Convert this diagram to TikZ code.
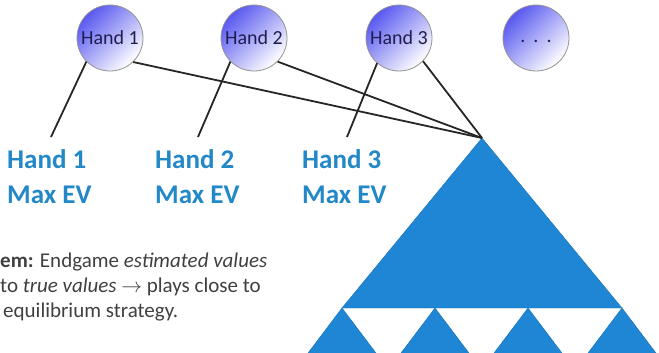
\documentclass[tikz,border=0pt]{standalone}
\usepackage{fontspec}
\setmainfont{Carlito}
\definecolor{handblue}{RGB}{88,88,240}
\definecolor{handtext}{RGB}{30,30,80}
\definecolor{evblue}{RGB}{34,136,200}
\definecolor{triblue}{RGB}{30,134,212}
\definecolor{bodytext}{RGB}{64,64,64}
\begin{document}
\begin{tikzpicture}[x=1pt,y=-1pt,
  hand/.style={circle, draw=gray!85, line width=0.8pt, minimum size=66pt,
    inner sep=0pt, top color=handblue, bottom color=white, shading angle=45,
    font=\fontsize{20}{24}\selectfont, text=handtext},
  evlabel/.style={anchor=north west, inner sep=0pt, align=left,
    font=\fontsize{27}{35}\selectfont\bfseries, text=evblue},
  link/.style={line width=1.8pt, draw=black!85},
  tri/.style={fill=triblue, draw=triblue!85!black, line width=0.4pt}]

\useasboundingbox (0,0) rectangle (659,353);
\clip (0,0) rectangle (659,353);

% hand nodes along the top
\node[hand] (h1) at (110,38) {Hand 1};
\node[hand] (h2) at (254,38) {Hand 2};
\node[hand] (h3) at (399,38) {Hand 3};
\node[hand] (h4) at (536,38) {\strut.\hspace{8pt}.\hspace{8pt}.};

% best-response labels
\node[evlabel] (l1) at (7,149)   {Hand 1\\Max EV};
\node[evlabel] (l2) at (155,149) {Hand 2\\Max EV};
\node[evlabel] (l3) at (302,149) {Hand 3\\Max EV};
\coordinate (e1) at (51,137);
\coordinate (e2) at (198,137);
\coordinate (e3) at (347,137);

% endgame tree
\coordinate (apex) at (482,138);
\fill[tri] (apex) -- (342,308) -- (622,308) -- cycle;
\foreach \x in {342,435,528,622}
  \fill[tri] (\x,308) -- (\x-40,361) -- (\x+40,361) -- cycle;

% connectors
\draw[link] (h1.225) -- (e1);
\draw[link] (h2.225) -- (e2);
\draw[link] (h3.229) -- (e3);
\draw[link] (h1.-46) -- (apex);
\draw[link] (h2.-45) -- (apex);
\draw[link] (h3.-44) -- (apex);

% note text (anchored on the baseline of its last line)
\node[anchor=base west, inner sep=0pt, align=left, text=bodytext,
  font=\fontsize{21}{25}\selectfont] (note) at (0,317)
  {\textbf{em:} Endgame \textit{estimated values}\\
   to \textit{true values} $\rightarrow$ plays close to\\
   \hspace{3pt}equilibrium strategy.};
\end{tikzpicture}
\end{document}
